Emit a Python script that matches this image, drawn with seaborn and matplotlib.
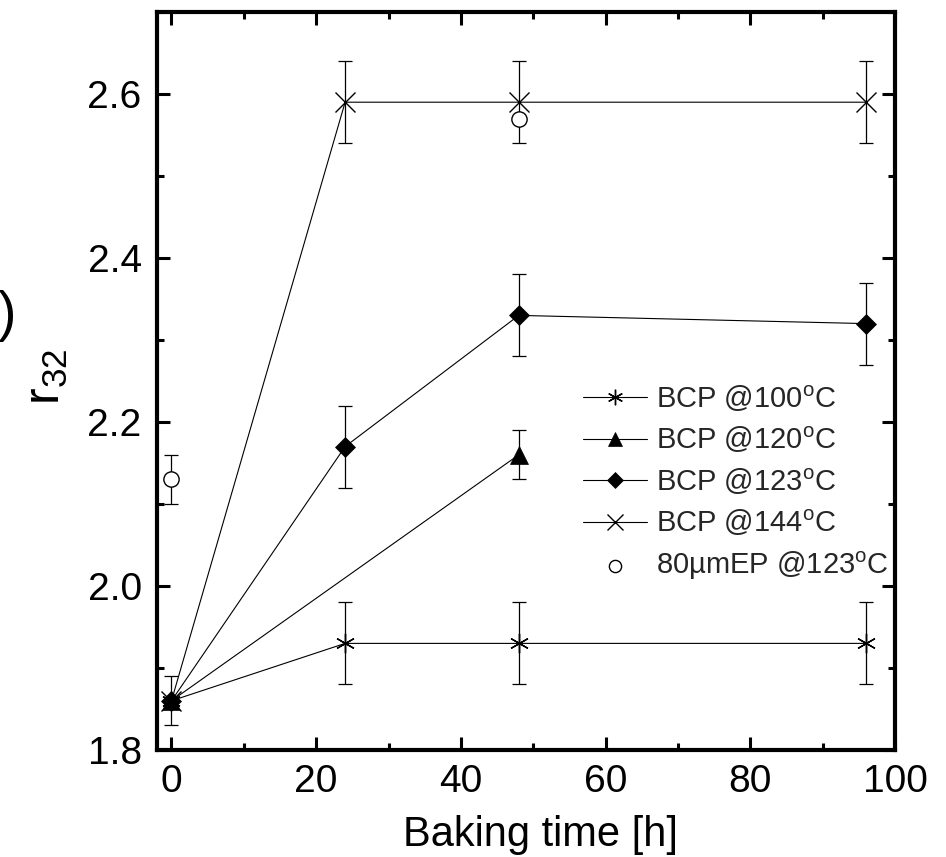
import numpy as np
import pandas as pd
import matplotlib
matplotlib.use("Agg")
import matplotlib.pyplot as plt
import seaborn as sns
from matplotlib.ticker import MultipleLocator

# ---- data ----
hours = [0, 24, 48, 96]
bcp100 = [1.86, 1.93, 1.93, 1.93]
bcp100_err = [0.0, 0.05, 0.05, 0.05]
hours120 = [0, 48]
bcp120 = [1.86, 2.16]
bcp120_err = [0.0, 0.03]
bcp123 = [1.86, 2.17, 2.33, 2.32]
bcp123_err = [0.03, 0.05, 0.05, 0.05]
bcp144 = [1.86, 2.59, 2.59, 2.59]
bcp144_err = [0.0, 0.05, 0.05, 0.05]
hours_ep = [0, 48]
ep123 = [2.13, 2.57]
ep123_err = [0.03, 0.0]
series_labels = ["BCP @100$^{\\mathrm{o}}$C", "BCP @120$^{\\mathrm{o}}$C",
                 "BCP @123$^{\\mathrm{o}}$C", "BCP @144$^{\\mathrm{o}}$C",
                 "80\u00b5mEP @123$^{\\mathrm{o}}$C"]
x_label = "Baking time [h]"
y_label = "r$_{32}$"

sns.set_theme(style="ticks")
plt.rcParams["font.family"] = ["Liberation Sans", "DejaVu Sans"]
plt.rcParams["mathtext.fontset"] = "custom"
plt.rcParams["mathtext.rm"] = "Liberation Sans"
plt.rcParams["mathtext.it"] = "Liberation Sans"
plt.rcParams["mathtext.bf"] = "Liberation Sans:bold"

fig = plt.figure(figsize=(9.46, 8.57), dpi=100)
ax = fig.add_axes([157 / 946, 1 - 750 / 857, (895 - 157) / 946, (750 - 12) / 857])

lw = 0.8
sns.lineplot(x=hours, y=bcp100, ax=ax, color="black", linewidth=lw,
             marker=(6, 2, 0), markersize=14, markeredgewidth=1.0,
             markeredgecolor="black", label=series_labels[0], zorder=3)
sns.lineplot(x=hours120, y=bcp120, ax=ax, color="black", linewidth=lw,
             marker="^", markersize=12.5, markeredgewidth=0.5,
             markerfacecolor="black", markeredgecolor="black",
             label=series_labels[1], zorder=3)
sns.lineplot(x=hours, y=bcp123, ax=ax, color="black", linewidth=lw,
             marker="D", markersize=10, markeredgewidth=0.5,
             markerfacecolor="black", markeredgecolor="black",
             label=series_labels[2], zorder=3)
sns.lineplot(x=hours, y=bcp144, ax=ax, color="black", linewidth=lw,
             marker="x", markersize=14, markeredgewidth=1.0,
             markeredgecolor="black", label=series_labels[3], zorder=3)
sns.scatterplot(x=hours_ep, y=ep123, ax=ax, marker="o", s=11 ** 2,
                facecolor="white", edgecolor="black", linewidth=1.0,
                label=series_labels[4], zorder=4)

# error bars
for xs, ys, es in [(hours, bcp100, bcp100_err), (hours120, bcp120, bcp120_err),
                   (hours, bcp123, bcp123_err), (hours, bcp144, bcp144_err),
                   (hours_ep, ep123, ep123_err)]:
    xs = np.asarray(xs, float); ys = np.asarray(ys, float); es = np.asarray(es, float)
    m = es > 0
    ax.errorbar(xs[m], ys[m], yerr=es[m], fmt="none", ecolor="black",
                elinewidth=0.9, capsize=5, capthick=0.9, zorder=2)

ax.set_xlim(-2, 100)
ax.set_ylim(1.8, 2.7)
ax.xaxis.set_major_locator(MultipleLocator(20))
ax.xaxis.set_minor_locator(MultipleLocator(10))
ax.yaxis.set_major_locator(MultipleLocator(0.2))
ax.yaxis.set_minor_locator(MultipleLocator(0.1))
ax.yaxis.set_major_formatter(matplotlib.ticker.FormatStrFormatter("%.1f"))

for s in ax.spines.values():
    s.set_linewidth(3)
    s.set_color("black")
ax.tick_params(which="both", direction="in", top=True, right=True,
               color="black", width=2.2, labelsize=28, labelcolor="black")
ax.tick_params(which="major", length=9.5, pad=10)
ax.tick_params(which="minor", length=5)
ax.tick_params(axis="y", which="major", pad=11)

ax.set_xlabel(x_label, fontsize=30, color="black")
ax.xaxis.set_label_coords(0.52, -0.088)
ax.set_ylabel(y_label, fontsize=36, color="black")
ax.yaxis.set_label_coords(-0.118, 0.505)

handles, labels = ax.get_legend_handles_labels()
ax.legend(handles, labels, loc="upper left", bbox_to_anchor=(0.577, 0.497),
          frameon=False, fontsize=21, handlelength=2.2, handletextpad=0.3,
          labelspacing=0.38, borderaxespad=0, borderpad=0, markerscale=0.8)

# partially visible panel label at the left edge
fig.text(16 / 946, 1 - 316 / 857, ")", fontsize=40, ha="right", va="center",
         color="black")

fig.savefig("out.png", dpi=100)
